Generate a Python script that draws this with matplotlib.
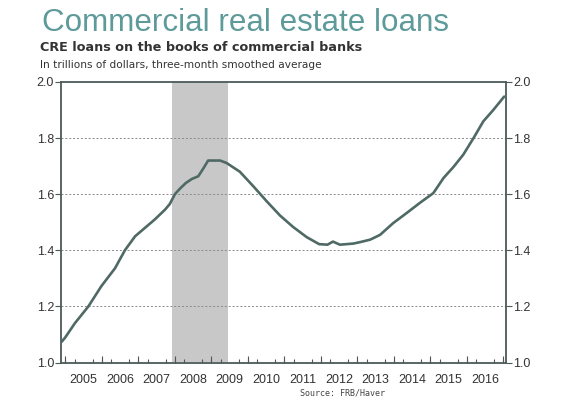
import numpy as np
import matplotlib
matplotlib.use("Agg")
import matplotlib.pyplot as plt
from matplotlib.ticker import MultipleLocator, FixedLocator, NullFormatter


# =========================================================
# DATA
# =========================================================

# decimal years
years = [2004.90, 2005.00, 2005.26, 2005.63, 2005.99, 2006.36, 2006.63,
         2006.91, 2007.18, 2007.45, 2007.73, 2007.86, 2008.00, 2008.14,
         2008.30, 2008.46, 2008.64, 2008.78, 2008.91, 2009.24, 2009.42,
         2009.78, 2010.15, 2010.52, 2010.88, 2011.24, 2011.61, 2011.95,
         2012.18, 2012.33, 2012.52, 2012.89, 2013.10, 2013.35, 2013.62,
         2013.98, 2014.35, 2014.71, 2015.08, 2015.36, 2015.63, 2015.90,
         2016.18, 2016.45, 2016.72, 2017.02]

# CRE loans, trillions of dollars
loans = [1.074, 1.09, 1.14, 1.20, 1.273, 1.336, 1.40,
         1.45, 1.48, 1.51, 1.545, 1.565, 1.60, 1.62,
         1.64, 1.654, 1.664, 1.692, 1.72, 1.72, 1.711,
         1.68, 1.628, 1.574, 1.524, 1.483, 1.447, 1.422,
         1.42, 1.431, 1.42, 1.424, 1.43, 1.438, 1.455,
         1.497, 1.533, 1.569, 1.604, 1.658, 1.697, 1.741,
         1.80, 1.86, 1.90, 1.948]

recession = [2007.92, 2009.46]

year_labels = [str(y) for y in range(2005, 2017)]
y_ticks = [1.0, 1.2, 1.4, 1.6, 1.8, 2.0]


# =========================================================
# FIGURE
# =========================================================

plt.rcParams["font.family"] = ["Liberation Sans", "DejaVu Sans"]

fig = plt.figure(figsize=(5.69, 3.98), dpi=100)
ax = fig.add_axes([61 / 569, 1 - 362.5 / 398, 445 / 569, 280.5 / 398])

line_color = "#4f6964"
spine_color = "#4a5b58"
text_color = "#333333"

ax.axvspan(recession[0], recession[1], color="#c8c8c8", lw=0, zorder=0)

for v in y_ticks[1:-1]:
    ax.axhline(v, color="#8a8a8a", lw=0.7, ls=(0, (2, 2)), zorder=1)

ax.plot(years, loans, color=line_color, lw=1.9, zorder=3,
        solid_joinstyle="round", solid_capstyle="round")

ax.set_xlim(2004.88, 2017.07)
ax.set_ylim(1.0, 2.0)

for s in ax.spines.values():
    s.set_color(spine_color)
    s.set_linewidth(1.3)

# y axis, both sides
ax.set_yticks(y_ticks)
ax.set_yticklabels([f"{v:.1f}" for v in y_ticks])
ax.tick_params(axis="y", which="both", direction="out", length=4, width=0.8,
               color=spine_color, labelsize=9, labelcolor=text_color,
               left=True, right=True, labelleft=True, labelright=True, pad=1)

# x axis: quarterly inner ticks, year labels centred in the year
ax.xaxis.set_major_locator(FixedLocator([y + 0.5 for y in range(2005, 2017)]))
ax.set_xticklabels(year_labels)
ax.xaxis.set_minor_locator(MultipleLocator(0.25))
ax.xaxis.set_minor_formatter(NullFormatter())
ax.tick_params(axis="x", which="major", length=0, labelsize=9,
               labelcolor=text_color, pad=8)
ax.tick_params(axis="x", which="minor", direction="in", length=3, width=0.8,
               color="#555555")

sec = ax.secondary_xaxis("bottom")
sec.set_xticks(list(range(2005, 2018)))
sec.tick_params(direction="in", length=5, width=0.8, color="#555555",
                labelbottom=False)
sec.spines["bottom"].set_visible(False)


# =========================================================
# TEXT
# =========================================================

fig.text(42 / 569, 1 - 31 / 398, "Commercial real estate loans",
         fontsize=22.6, color="#5e9a9a", ha="left", va="baseline")

fig.text(40 / 569, 1 - 51 / 398, "CRE loans on the books of commercial banks",
         fontsize=9.2, fontweight="bold", family="DejaVu Sans",
         color=text_color, ha="left", va="baseline")

fig.text(40 / 569, 1 - 68 / 398,
         "In trillions of dollars, three-month smoothed average",
         fontsize=7.6, family="DejaVu Sans", color=text_color,
         ha="left", va="baseline")

fig.text(343 / 569, 1 - 395 / 398, "Source: FRB/Haver",
         fontsize=6, family="DejaVu Sans Mono", color="#444444",
         ha="center", va="baseline")

fig.savefig("out.png", dpi=100)
